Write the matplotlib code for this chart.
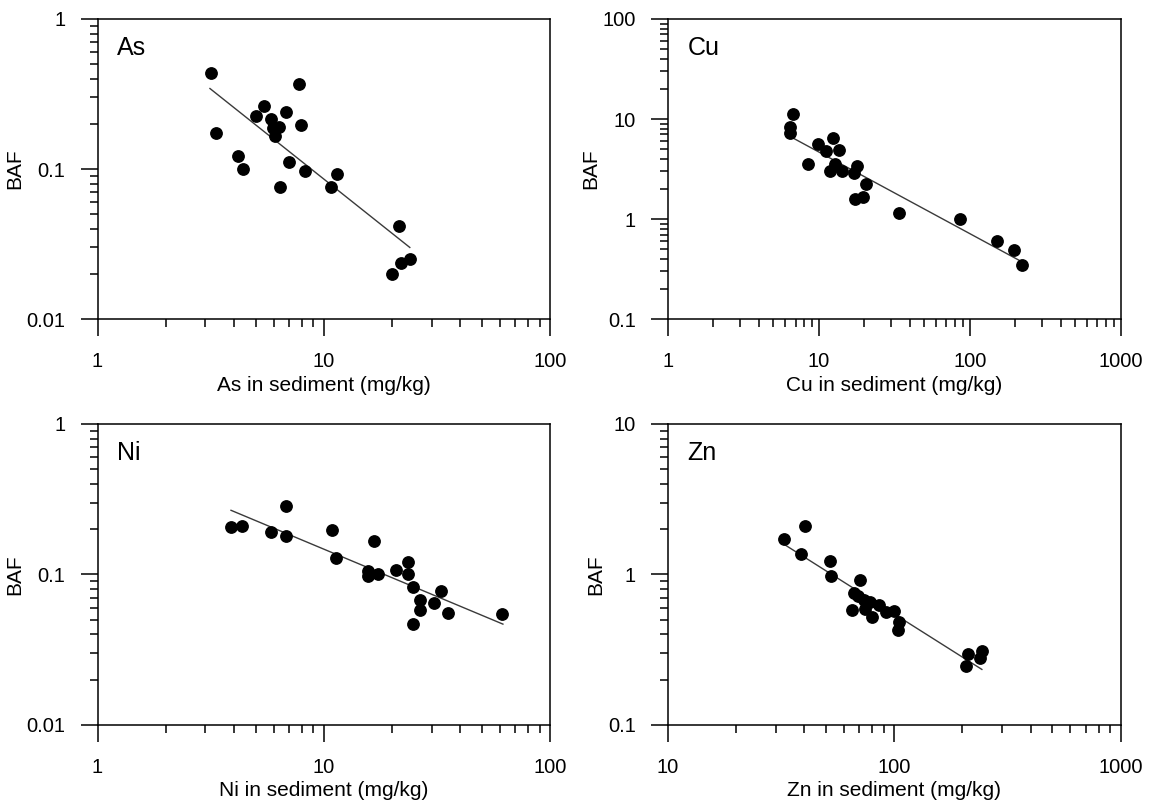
"""
BAF vs metal concentration in sediment, four log-log panels (As, Cu, Ni, Zn).
"""

import matplotlib
matplotlib.use("Agg")
import matplotlib.pyplot as plt
from matplotlib.ticker import FuncFormatter, LogLocator

plt.rcParams["font.family"] = ["Liberation Sans", "DejaVu Sans"]

# As
as_x = [3.17, 3.34, 4.16, 4.39, 5.0, 5.46, 5.87, 5.98, 6.09, 6.36, 6.38,
        6.84, 7.0, 7.8, 7.91, 8.3, 10.8, 11.4, 21.4, 20.0, 22.0, 24.0]
as_y = [0.438, 0.175, 0.123, 0.0995, 0.225, 0.264, 0.215, 0.187, 0.166,
        0.191, 0.0755, 0.241, 0.112, 0.369, 0.197, 0.0964, 0.0755, 0.092,
        0.0417, 0.020, 0.0237, 0.025]
as_fit_x = [3.14, 24.0]
as_fit_y = [0.344, 0.030]

# Cu
cu_x = [6.78, 6.48, 6.48, 8.43, 9.91, 11.1, 12.5, 13.6, 11.9, 12.7, 14.3,
        17.0, 18.0, 17.3, 19.7, 20.5, 34.0, 86.0, 150.7, 197.0, 221.0]
cu_y = [11.1, 8.26, 7.3, 3.52, 5.62, 4.82, 6.5, 4.9, 3.04, 3.52, 3.03,
        2.9, 3.39, 1.58, 1.65, 2.22, 1.16, 0.993, 0.607, 0.49, 0.344]
cu_fit_x = [6.48, 215.0]
cu_fit_y = [6.66, 0.383]

# Ni
ni_x = [3.89, 4.36, 5.83, 6.79, 6.84, 10.9, 11.3, 15.7, 15.7, 16.6, 17.3,
        20.8, 23.6, 23.6, 24.8, 24.7, 26.5, 26.7, 30.7, 33.0, 35.5, 61.2]
ni_y = [0.208, 0.211, 0.192, 0.283, 0.181, 0.197, 0.129, 0.106, 0.0984,
        0.167, 0.100, 0.107, 0.121, 0.1015, 0.083, 0.0468, 0.0675, 0.0582,
        0.0644, 0.0772, 0.0559, 0.0545]
ni_fit_x = [3.89, 61.9]
ni_fit_y = [0.267, 0.0468]

# Zn
zn_x = [32.5, 40.3, 38.6, 52.0, 52.6, 70.5, 66.6, 65.3, 69.2, 73.3, 74.1,
        78.2, 80.0, 85.3, 92.1, 100.2, 104.5, 104.2, 207.6, 211.8, 239.0, 243.8]
zn_y = [1.73, 2.11, 1.365, 1.228, 0.984, 0.922, 0.751, 0.577, 0.715, 0.678,
        0.588, 0.658, 0.52, 0.628, 0.561, 0.568, 0.48, 0.429, 0.248, 0.295,
        0.277, 0.312]
zn_fit_x = [32.5, 243.8]
zn_fit_y = [1.59, 0.234]

PANELS = [
    ("As", as_x, as_y, as_fit_x, as_fit_y, (1, 100), (0.01, 1)),
    ("Cu", cu_x, cu_y, cu_fit_x, cu_fit_y, (1, 1000), (0.1, 100)),
    ("Ni", ni_x, ni_y, ni_fit_x, ni_fit_y, (1, 100), (0.01, 1)),
    ("Zn", zn_x, zn_y, zn_fit_x, zn_fit_y, (10, 1000), (0.1, 10)),
]

# axes boxes in figure fractions (left, bottom, width, height)
POSITIONS = [
    [0.0848, 0.6037, 0.3935, 0.3727],
    [0.5809, 0.6037, 0.3935, 0.3727],
    [0.0848, 0.0994, 0.3935, 0.3739],
    [0.5809, 0.0994, 0.3935, 0.3739],
]


def _fmt(v, _pos):
    return f"{v:g}"


def main() -> None:
    fig = plt.figure(figsize=(11.5, 8.05), dpi=100)

    for (name, x, y, fx, fy, xlim, ylim), pos in zip(PANELS, POSITIONS):
        ax = fig.add_axes(pos)
        ax.set_xscale("log")
        ax.set_yscale("log")
        ax.plot(fx, fy, color="#3a3a3a", lw=1.0, zorder=2)
        ax.plot(x, y, "o", color="black", ms=8.2, zorder=3)
        ax.set_xlim(*xlim)
        ax.set_ylim(*ylim)

        for axis in (ax.xaxis, ax.yaxis):
            axis.set_major_locator(LogLocator(base=10))
            axis.set_minor_locator(LogLocator(base=10, subs=range(2, 10)))
            axis.set_major_formatter(FuncFormatter(_fmt))
            axis.set_minor_formatter(FuncFormatter(lambda v, p: ""))

        for sp in ax.spines.values():
            sp.set_linewidth(1.1)
        ax.tick_params(which="both", direction="out", width=1.1,
                       labelsize=14.5, top=False, right=False)
        ax.tick_params(which="major", length=12)
        ax.tick_params(which="minor", length=6)
        ax.tick_params(axis="x", which="major", pad=12)
        ax.tick_params(axis="y", which="major", pad=11)

        ax.set_xlabel(f"{name} in sediment (mg/kg)", fontsize=15, labelpad=3)
        ax.set_ylabel("BAF", fontsize=15, labelpad=2)
        ax.text(0.043, 0.88, name, transform=ax.transAxes, fontsize=18,
                ha="left", va="baseline")

    fig.savefig("out.png", dpi=100)
    plt.close(fig)


if __name__ == "__main__":
    main()
